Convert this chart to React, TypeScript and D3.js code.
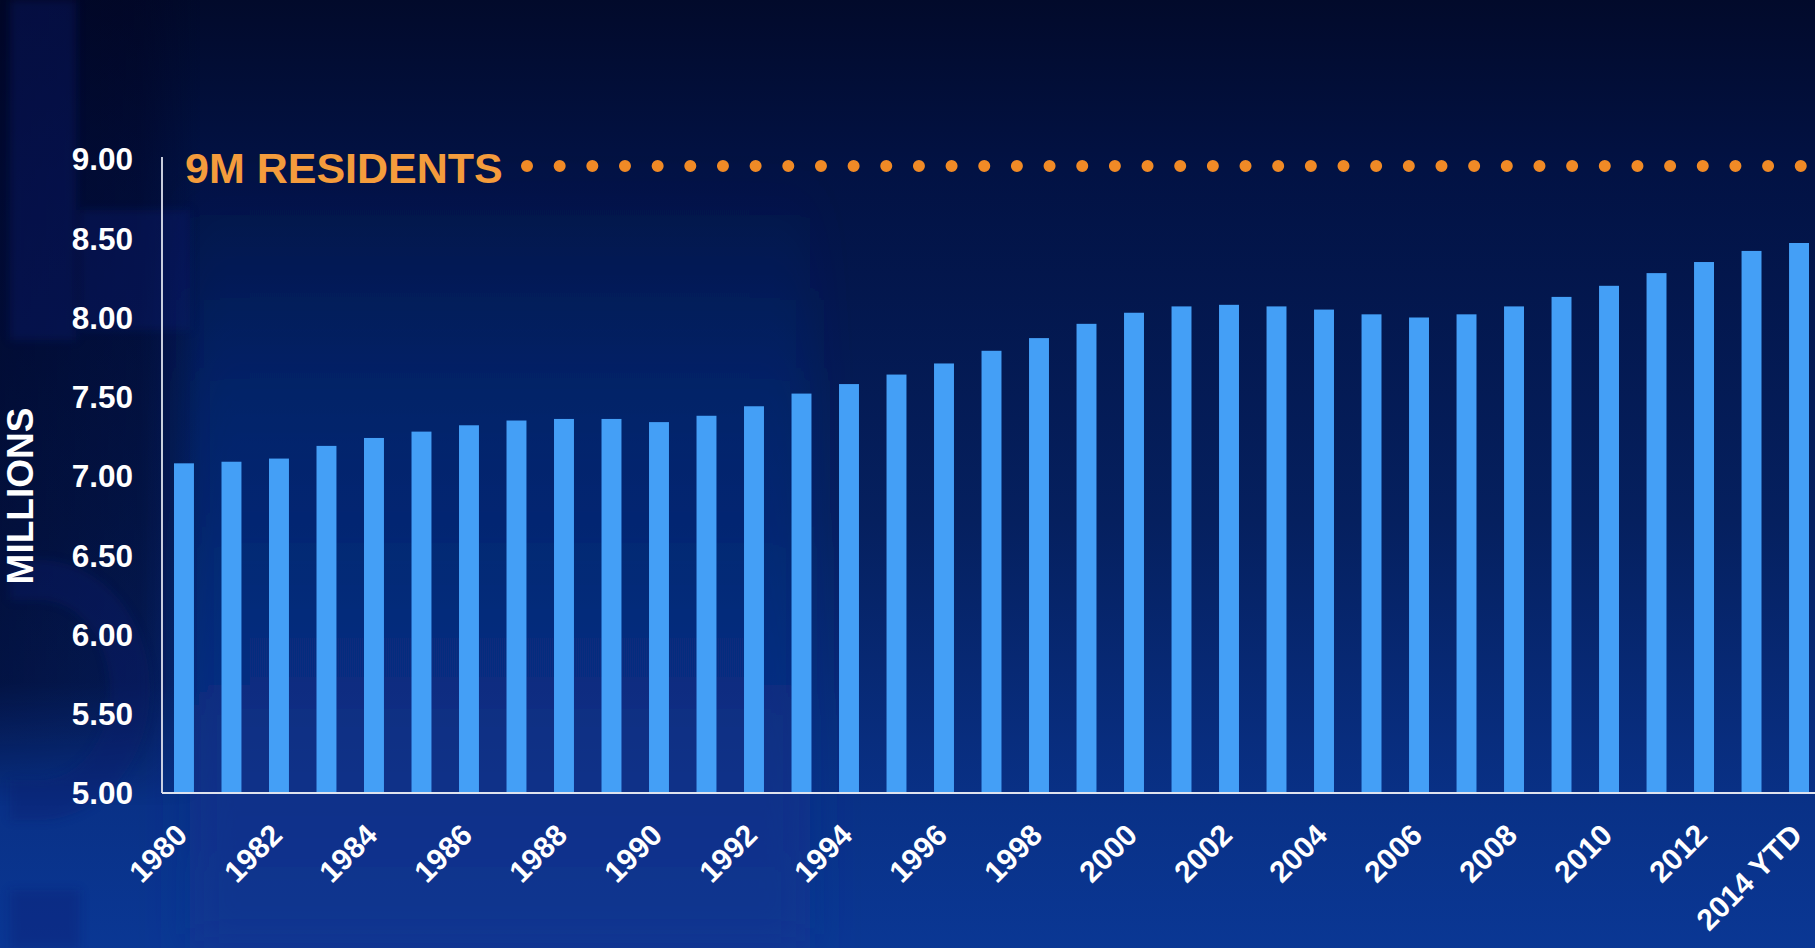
import React from "react";
import * as d3 from "d3";

// ---- data ----
const categories = [
  "1980", "1981", "1982", "1983", "1984", "1985", "1986", "1987", "1988", "1989",
  "1990", "1991", "1992", "1993", "1994", "1995", "1996", "1997", "1998", "1999",
  "2000", "2001", "2002", "2003", "2004", "2005", "2006", "2007", "2008", "2009",
  "2010", "2011", "2012", "2013", "2014",
];
const populationMillions = [
  7.08, 7.09, 7.11, 7.19, 7.24, 7.28, 7.32, 7.35, 7.36, 7.36,
  7.34, 7.38, 7.44, 7.52, 7.58, 7.64, 7.71, 7.79, 7.87, 7.96,
  8.03, 8.07, 8.08, 8.07, 8.05, 8.02, 8.00, 8.02, 8.07, 8.13,
  8.20, 8.28, 8.35, 8.42, 8.47,
];
const xTickCategories = [
  "1980", "1982", "1984", "1986", "1988", "1990", "1992", "1994", "1996",
  "1998", "2000", "2002", "2004", "2006", "2008", "2010", "2012", "2014",
];
const xTickTexts = [
  "1980", "1982", "1984", "1986", "1988", "1990", "1992", "1994", "1996",
  "1998", "2000", "2002", "2004", "2006", "2008", "2010", "2012", "2014 YTD",
];
const yTickValues = [5, 5.5, 6, 6.5, 7, 7.5, 8, 8.5, 9];
const targetValue = 9;
const targetLabel = "9M RESIDENTS";
const yAxisTitle = "MILLIONS";

// ---- layout ----
const W = 1815;
const H = 948;
const axisX = 162;
const baseY = 793;
const topY = 159;
const FONT = "'Liberation Sans', Arial, Helvetica, sans-serif";

export default function App() {
  if (typeof document !== "undefined") {
    document.body.style.margin = "0";
    document.body.style.overflow = "hidden";
  }

  const y = d3.scaleLinear().domain([5, 9]).range([baseY, topY]);
  const x = d3
    .scaleBand<string>()
    .domain(categories)
    .range([axisX, 1821])
    .paddingInner(0.58)
    .paddingOuter(0.2526);
  const fmt = d3.format(".2f");

  const targetY = y(targetValue);

  return (
    <svg
      width={W}
      height={H}
      viewBox={`0 0 ${W} ${H}`}
      style={{ position: "absolute", left: 0, top: 0, display: "block" }}
    >
      <defs>
        <linearGradient id="bg" x1="0" y1="0" x2="0" y2="1">
          <stop offset="0" stopColor="#020a2b" />
          <stop offset="0.18" stopColor="#021244" />
          <stop offset="0.55" stopColor="#05205f" />
          <stop offset="0.85" stopColor="#093187" />
          <stop offset="1" stopColor="#0a3794" />
        </linearGradient>
        <linearGradient id="leftGlow" x1="0" y1="0" x2="0" y2="1">
          <stop offset="0" stopColor="#0b2a7a" stopOpacity="0" />
          <stop offset="0.3" stopColor="#0b2c82" stopOpacity="0.45" />
          <stop offset="1" stopColor="#0c348f" stopOpacity="0.7" />
        </linearGradient>
        <linearGradient id="leftDark" x1="0" y1="0" x2="1" y2="0">
          <stop offset="0" stopColor="#010524" stopOpacity="0.6" />
          <stop offset="0.7" stopColor="#010524" stopOpacity="0.45" />
          <stop offset="1" stopColor="#010524" stopOpacity="0" />
        </linearGradient>
        <linearGradient id="leftDarkV" x1="0" y1="0" x2="0" y2="1">
          <stop offset="0" stopColor="#fff" stopOpacity="1" />
          <stop offset="0.72" stopColor="#fff" stopOpacity="1" />
          <stop offset="0.85" stopColor="#fff" stopOpacity="0" />
          <stop offset="1" stopColor="#fff" stopOpacity="0" />
        </linearGradient>
        <mask id="leftMask">
          <rect x={0} y={0} width={W} height={H} fill="url(#leftDarkV)" />
        </mask>
        <filter id="blur" x="-20%" y="-20%" width="140%" height="140%">
          <feGaussianBlur stdDeviation="22" />
        </filter>
        <filter id="blurSmall" x="-20%" y="-20%" width="140%" height="140%">
          <feGaussianBlur stdDeviation="5" />
        </filter>
      </defs>

      {/* background */}
      <rect x={0} y={0} width={W} height={H} fill="url(#bg)" />
      <rect x={190} y={170} width={620} height={778} fill="url(#leftGlow)" filter="url(#blur)" />
      <rect x={0} y={0} width={200} height={H} fill="url(#leftDark)" mask="url(#leftMask)" />
      {/* faint watermark letter shapes on the left */}
      <g opacity={0.35} filter="url(#blurSmall)">
        <rect x={10} y={0} width={66} height={340} fill="#0a1c72" />
        <rect x={80} y={210} width={110} height={120} fill="#0a1c72" />
        <path
          d="M 10 560 L 40 560 A 110 130 0 0 1 150 690 A 110 130 0 0 1 40 820 L 10 820 L 10 780 L 40 780 A 70 90 0 0 0 110 690 A 70 90 0 0 0 40 600 L 10 600 Z"
          fill="#0a1c6e"
        />
        <rect x={10} y={890} width={70} height={58} fill="#0a1c72" />
      </g>

      {/* bars */}
      <g>
        {categories.map((c, i) => (
          <rect
            key={c}
            x={x(c)}
            y={y(populationMillions[i])}
            width={x.bandwidth()}
            height={baseY - y(populationMillions[i])}
            fill="#449ff6"
          />
        ))}
      </g>

      {/* axes lines */}
      <line x1={axisX} x2={axisX} y1={topY - 2} y2={baseY} stroke="#dfe3ee" strokeWidth={1.8} />
      <line x1={axisX} x2={W} y1={baseY} y2={baseY} stroke="#dfe3ee" strokeWidth={1.8} />

      {/* y tick labels */}
      <g fontFamily={FONT} fontWeight="bold" fontSize={31.5} fill="#ffffff">
        {yTickValues.map((v) => (
          <text key={v} x={133} y={y(v)} dy="0.36em" textAnchor="end">
            {fmt(v)}
          </text>
        ))}
      </g>

      {/* y axis title */}
      <text
        transform={`translate(33,${(topY + baseY) / 2 + 20}) rotate(-90)`}
        textAnchor="middle"
        fontFamily={FONT}
        fontWeight="bold"
        fontSize={37}
        fill="#ffffff"
      >
        {yAxisTitle}
      </text>

      {/* x tick labels */}
      <g fontFamily={FONT} fontWeight="bold" fontSize={30} fill="#ffffff">
        {xTickCategories.map((c, i) => {
          const cx = (x(c) as number) + x.bandwidth() / 2 + 5;
          return (
            <text
              key={c}
              transform={`translate(${cx},${baseY + 44}) rotate(-45)`}
              textAnchor="end"
            >
              {xTickTexts[i]}
            </text>
          );
        })}
      </g>

      {/* 9M reference */}
      <text
        x={185}
        y={targetY + 24}
        fontFamily={FONT}
        fontWeight="bold"
        fontSize={43}
        fill="#f49c3c"
      >
        {targetLabel}
      </text>
      <line
        x1={527}
        x2={W + 10}
        y1={targetY + 7}
        y2={targetY + 7}
        stroke="#f08a26"
        strokeWidth={12}
        strokeLinecap="round"
        strokeDasharray="0.01 32.65"
      />
    </svg>
  );
}
